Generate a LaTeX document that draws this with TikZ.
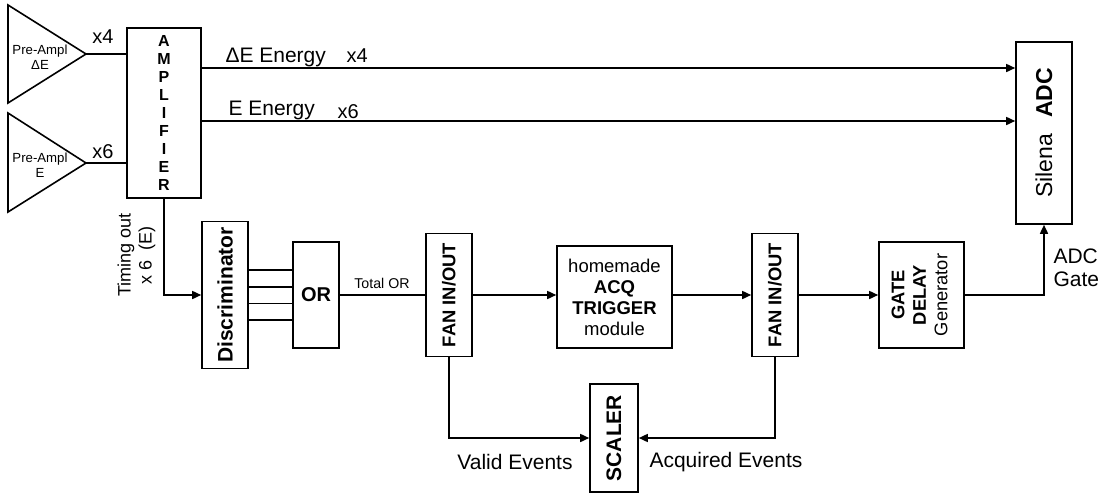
\documentclass[tikz,border=0pt]{standalone}
\usepackage{fontspec}
\setmainfont{Liberation Sans}
\usepackage{graphicx}
\usetikzlibrary{arrows.meta,positioning}
\tikzset{
	blk/.style={draw, line width=1.6pt, inner sep=0pt, align=center},
	wire/.style={line width=1.6pt},
	sig/.style={line width=1.6pt, -{Triangle[length=9pt,width=8pt]}},
}
\newcommand{\fsz}[2]{\fontsize{#1}{#2}\selectfont}
\newcommand{\vtext}[1]{\rotatebox{90}{\begin{tabular}{@{}c@{}}#1\end{tabular}}}

\begin{document}
\begin{tikzpicture}[x=1pt,y=-1pt]
\useasboundingbox (0,0) rectangle (1109,493);
% pre-amplifiers
\draw[wire] (8,5) -- (86,54) -- (8,103) -- cycle;
\draw[wire] (8,113) -- (86,163) -- (8,212) -- cycle;
\coordinate (pdE) at (86,54);
\coordinate (pE) at (86,163);
\node[font=\fsz{13.2}{14.5}, align=center] (pdEtxt) at (40,57) {Pre-Ampl\\ΔE};
\node[font=\fsz{13.2}{14.5}, align=center] (pEtxt) at (40,165) {Pre-Ampl\\E};

% boxes
\node[blk, minimum width=74, minimum height=170, font=\bfseries\fsz{16}{17.9}] (amp) at (164,113) {A\\M\\P\\L\\I\\F\\I\\E\\R};
\node[blk, minimum width=56, minimum height=182, font=\fsz{23}{26}] (adc) at (1044,133) {\rotatebox{90}{Silena\hspace{0.7em}\textbf{ADC}}};
\node[blk, minimum width=46, minimum height=147, font=\bfseries\fsz{21}{24}] (disc) at (225,295) {\rotatebox{90}{Discriminator}};
\node[blk, minimum width=46, minimum height=106, font=\bfseries\fsz{20}{24}] (or) at (316,295) {OR};
\node[blk, minimum width=46, minimum height=123, font=\bfseries\fsz{18.4}{22}] (fan1) at (449,295) {\rotatebox{90}{FAN IN/OUT}};
\node[blk, minimum width=115, minimum height=102, font=\fsz{18.5}{21}] (acq) at (614.5,297) {homemade\\\textbf{ACQ}\\\textbf{TRIGGER}\\module};
\node[blk, minimum width=46, minimum height=123, font=\bfseries\fsz{18.4}{22}] (fan2) at (775,295) {\rotatebox{90}{FAN IN/OUT}};
\node[blk, minimum width=85, minimum height=106, font=\fsz{18.3}{21.5}] (gate) at (921.5,295) {\vtext{\textbf{GATE}\\\textbf{DELAY}\\Generator}};
\node[blk, minimum width=48, minimum height=108, font=\bfseries\fsz{21}{24}] (scaler) at (614,438) {\rotatebox{90}{SCALER}};

% connections
\draw[wire] (pdE) -- (pdE -| amp.west);
\draw[wire] (pE) -- (pE -| amp.west);
\coordinate (odE) at (201,68);
\coordinate (oE) at (201,121);
\draw[sig] (odE) -- (odE -| adc.west);
\draw[sig] (oE) -- (oE -| adc.west);
\draw[sig] (amp.south) |- (disc.west);
\foreach \d [count=\i] in {-25,-8.3,8.3,25}{
	\path ([yshift=\d pt]disc.east) coordinate (dl\i);
	\draw[wire] (dl\i) -- (dl\i -| or.west);
}
\draw[wire] (or.east) -- (fan1.west);
\draw[sig] (fan1.east) -- (fan1.east -| acq.west);
\draw[sig] (acq.east |- fan2.west) -- (fan2.west);
\draw[sig] (fan2.east) -- (gate.west);
\draw[sig] (gate.east) -| (adc.south);
\draw[sig] (fan1.south) |- (scaler.west);
\draw[sig] (fan2.south) |- (scaler.east);

% labels
\node[font=\fsz{20}{24}] (gdE) at (103,37) {x4};
\node[font=\fsz{20}{24}] (gE) at (103,152) {x6};
\node[font=\fsz{21}{24}, anchor=base west] (ldE) at (222,62) {ΔE Energy};
\node[font=\fsz{20}{24}, anchor=base west] (ldEg) at (343,62) {x4};
\node[font=\fsz{21}{24}, anchor=base west] (lE) at (225,115) {E Energy};
\node[font=\fsz{20}{24}, anchor=base west] (lEg) at (334,118) {x6};
\node[font=\fsz{18}{21}] (tout) at (137,255) {\vtext{Timing out\\x 6\ \ (E)}};
\node[font=\fsz{14.2}{17}] (tor) at (382,283) {Total OR};
\node[font=\fsz{21}{23}, anchor=west, align=left] (lgate) at (1050,268) {ADC\\Gate};
\node[font=\fsz{21}{24}] (lvalid) at (515,462) {Valid Events};
\node[font=\fsz{21}{24}] (lacq) at (726,462) {Acquired Events};
\end{tikzpicture}
\end{document}
